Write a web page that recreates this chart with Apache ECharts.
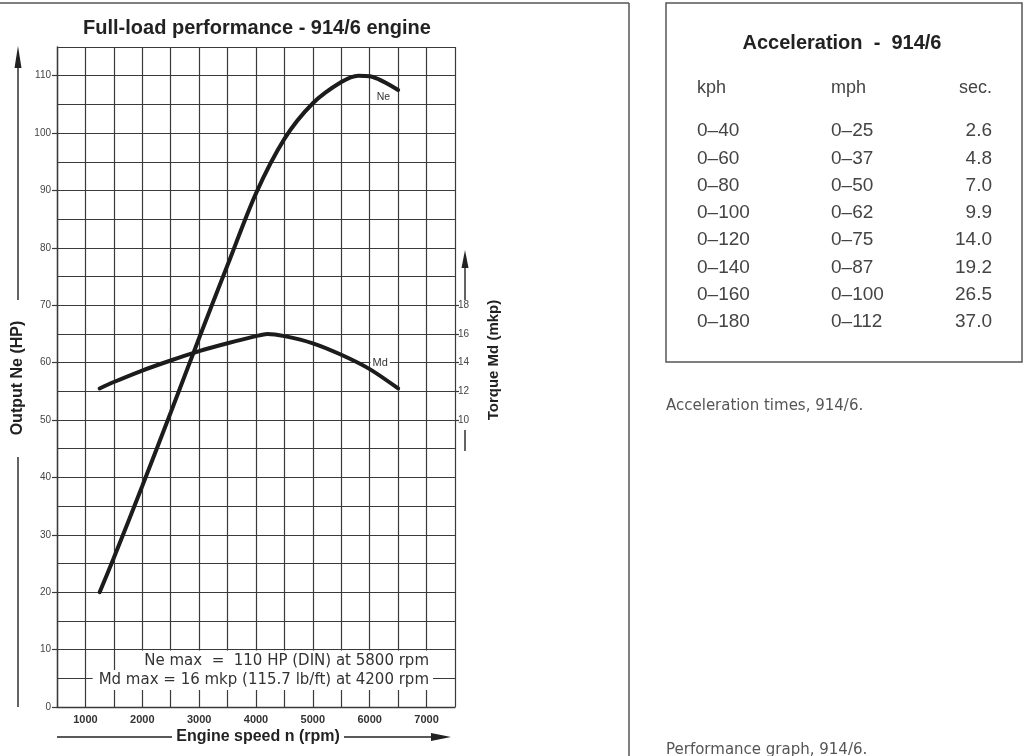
<!DOCTYPE html>
<html><head><meta charset="utf-8">
<script src="https://cdn.jsdelivr.net/npm/echarts@6/dist/echarts.min.js"></script>
<style>html,body{margin:0;padding:0;background:#fff}#c{width:1024px;height:756px}</style>
</head><body><div id="c"></div>
<script>
// ---- data ----
const rpm = [1250, 1500, 2000, 2500, 3000, 3500, 4000, 4500, 5000, 5500, 5800, 6000, 6500];
const outputHP = [20, 26, 38.5, 51.3, 64.3, 77, 89.5, 99, 105.2, 108.9, 110, 109.9, 107.5];
const torqueRpm = [1250, 1500, 2000, 2500, 3000, 3500, 4000, 4200, 4500, 5000, 5500, 6000, 6500];
const torqueMkp = [12.2, 12.65, 13.45, 14.15, 14.8, 15.35, 15.85, 16.0, 15.85, 15.35, 14.55, 13.55, 12.2];
const rpmTicks = [1000, 2000, 3000, 4000, 5000, 6000, 7000];
const hpTicks = [0, 10, 20, 30, 40, 50, 60, 70, 80, 90, 100, 110];
const torqueTicks = [10, 12, 14, 16, 18];
const accelKph = ['0–40', '0–60', '0–80', '0–100', '0–120', '0–140', '0–160', '0–180'];
const accelMph = ['0–25', '0–37', '0–50', '0–62', '0–75', '0–87', '0–100', '0–112'];
const accelSec = ['2.6', '4.8', '7.0', '9.9', '14.0', '19.2', '26.5', '37.0'];

const chart = echarts.init(document.getElementById('c'), null, {renderer: 'canvas'});
const INK = '#1c1c1c', GRID = '#3a3a3a', TXT = '#444';
const SANS = '"Liberation Sans", Arial, sans-serif';
const DJ = '"DejaVu Sans", sans-serif';

const G = {left: 57, top: 47, width: 398, height: 660};

const graphics = [];
function line(x1, y1, x2, y2, w, c) {
  graphics.push({type: 'line', z: 50, shape: {x1, y1, x2, y2}, style: {stroke: c || '#333', lineWidth: w || 1.4}});
}
function arrowHead(pts) {
  graphics.push({type: 'polygon', z: 50, shape: {points: pts}, style: {fill: '#222'}});
}
function text(t, x, y, opt) {
  graphics.push(Object.assign({type: 'text', z: 60, x: x, y: y,
    style: Object.assign({text: t, fill: TXT, font: '15px ' + SANS, textAlign: 'left', textVerticalAlign: 'middle'}, opt.style || {})},
    opt.rotation !== undefined ? {rotation: opt.rotation} : {}));
}

// page frame lines
line(0, 3, 629, 3, 1.5, '#555');
line(629, 3, 629, 756, 1.5, '#555');
graphics.push({type: 'rect', z: 50, shape: {x: 666, y: 3, width: 356, height: 359}, style: {fill: 'none', stroke: '#555', lineWidth: 1.5}});

// chart title
text('Full-load performance - 914/6 engine', 257, 28, {style: {font: 'bold 20px ' + SANS, fill: '#222', textAlign: 'center'}});

// left axis arrow + name
line(18, 66, 18, 300, 1.4, '#222');
arrowHead([[18, 46], [14.5, 68], [21.5, 68]]);
line(18, 457, 18, 707, 1.4, '#222');
text('Output Ne (HP)', 18, 378, {rotation: Math.PI / 2, style: {font: 'bold 16px ' + SANS, fill: '#222', textAlign: 'center'}});

// right axis arrow + name
line(465, 264, 465, 300, 1.4, '#222');
arrowHead([[465, 250], [461.5, 268], [468.5, 268]]);
line(465, 430, 465, 451, 1.4, '#222');
text('Torque Md (mkp)', 494, 360, {rotation: Math.PI / 2, style: {font: 'bold 15px ' + SANS, fill: '#222', textAlign: 'center'}});

// bottom axis arrow + name
line(57, 737, 172, 737, 1.4, '#222');
line(344, 737, 434, 737, 1.4, '#222');
arrowHead([[451, 737], [431, 733], [431, 741]]);
text('Engine speed n (rpm)', 258, 737, {style: {font: 'bold 16px ' + SANS, fill: '#222', textAlign: 'center'}});

// in-plot annotations
text('Ne max  =  110 HP (DIN) at 5800 rpm', 433, 661, {style: {font: '15px ' + DJ, fill: '#333', textAlign: 'right',
  backgroundColor: '#fff', padding: [3, 4, 3, 6]}});
text('Md max = 16 mkp (115.7 lb/ft) at 4200 rpm', 433, 680, {style: {font: '15px ' + DJ, fill: '#333', textAlign: 'right',
  backgroundColor: '#fff', padding: [2, 4, 3, 6]}});

// acceleration table
text('Acceleration  -  914/6', 842, 43, {style: {font: 'bold 20px ' + SANS, fill: '#222', textAlign: 'center'}});
text('kph', 697, 88, {style: {font: '18px ' + SANS, fill: TXT}});
text('mph', 831, 88, {style: {font: '18px ' + SANS, fill: TXT}});
text('sec.', 992, 88, {style: {font: '18px ' + SANS, fill: TXT, textAlign: 'right'}});
accelKph.forEach((k, i) => {
  const y = 131 + i * 27.3;
  text(k, 697, y, {style: {font: '19px ' + SANS, fill: TXT}});
  text(accelMph[i], 831, y, {style: {font: '19px ' + SANS, fill: TXT}});
  text(accelSec[i], 992, y, {style: {font: '19px ' + SANS, fill: TXT, textAlign: 'right'}});
});

// captions
text('Acceleration times, 914/6.', 666, 406, {style: {font: '15px ' + DJ, fill: '#555'}});
text('Performance graph, 914/6.', 666, 750, {style: {font: '15px ' + DJ, fill: '#555'}});

const option = {
  backgroundColor: '#fff',
  animation: false,
  grid: G,
  xAxis: {
    type: 'value', min: 500, max: 7500, interval: 500,
    axisLine: {show: true, lineStyle: {color: GRID, width: 1.4}},
    axisTick: {show: false},
    splitLine: {show: true, lineStyle: {color: GRID, width: 1.2}},
    axisLabel: {customValues: rpmTicks, formatter: v => String(v), margin: 7, color: '#333', fontSize: 11, fontWeight: 'bold', fontFamily: SANS}
  },
  yAxis: [
    {
      type: 'value', min: 0, max: 115, interval: 5, position: 'left',
      axisLine: {show: true, lineStyle: {color: GRID, width: 1.4}},
      axisTick: {show: false},
      splitLine: {show: true, lineStyle: {color: GRID, width: 1.2}},
      axisLabel: {customValues: hpTicks, formatter: v => String(v), margin: 6, color: TXT, fontSize: 10, fontFamily: SANS}
    },
    {
      type: 'value', min: -10, max: 36, position: 'right',
      axisLine: {show: false},
      axisTick: {show: true, customValues: torqueTicks, length: 4, lineStyle: {color: GRID, width: 1.2}},
      splitLine: {show: false},
      axisLabel: {customValues: torqueTicks, formatter: v => String(v), margin: 3, color: TXT, fontSize: 10, fontFamily: SANS}
    },
    {
      type: 'value', min: 0, max: 115, position: 'left',
      axisLine: {show: false},
      axisTick: {show: true, customValues: hpTicks, length: 5, lineStyle: {color: GRID, width: 1.2}},
      splitLine: {show: false},
      axisLabel: {show: false}
    }
  ],
  series: [
    {
      name: 'Ne', type: 'line', yAxisIndex: 0, smooth: 0.3, symbol: 'none',
      data: rpm.map((r, i) => [r, outputHP[i]]),
      lineStyle: {color: INK, width: 4, cap: 'round'},
      markPoint: {
        symbol: 'circle', symbolSize: 0,
        label: {show: true, position: 'inside', formatter: 'Ne', color: '#333', fontSize: 10.5, fontFamily: SANS},
        data: [{coord: [6240, 106.3]}]
      },
      z: 5
    },
    {
      name: 'Md', type: 'line', yAxisIndex: 1, smooth: 0.3, symbol: 'none',
      data: torqueRpm.map((r, i) => [r, torqueMkp[i]]),
      lineStyle: {color: INK, width: 4, cap: 'round'},
      markPoint: {
        symbol: 'circle', symbolSize: 0,
        label: {show: true, position: 'inside', formatter: 'Md', color: '#333', fontSize: 11, fontFamily: SANS,
          backgroundColor: '#fff', padding: [1, 2]},
        data: [{coord: [6185, 13.95]}]
      },
      z: 5
    }
  ],
  graphic: {elements: graphics}
};
chart.setOption(option);
</script></body></html>
